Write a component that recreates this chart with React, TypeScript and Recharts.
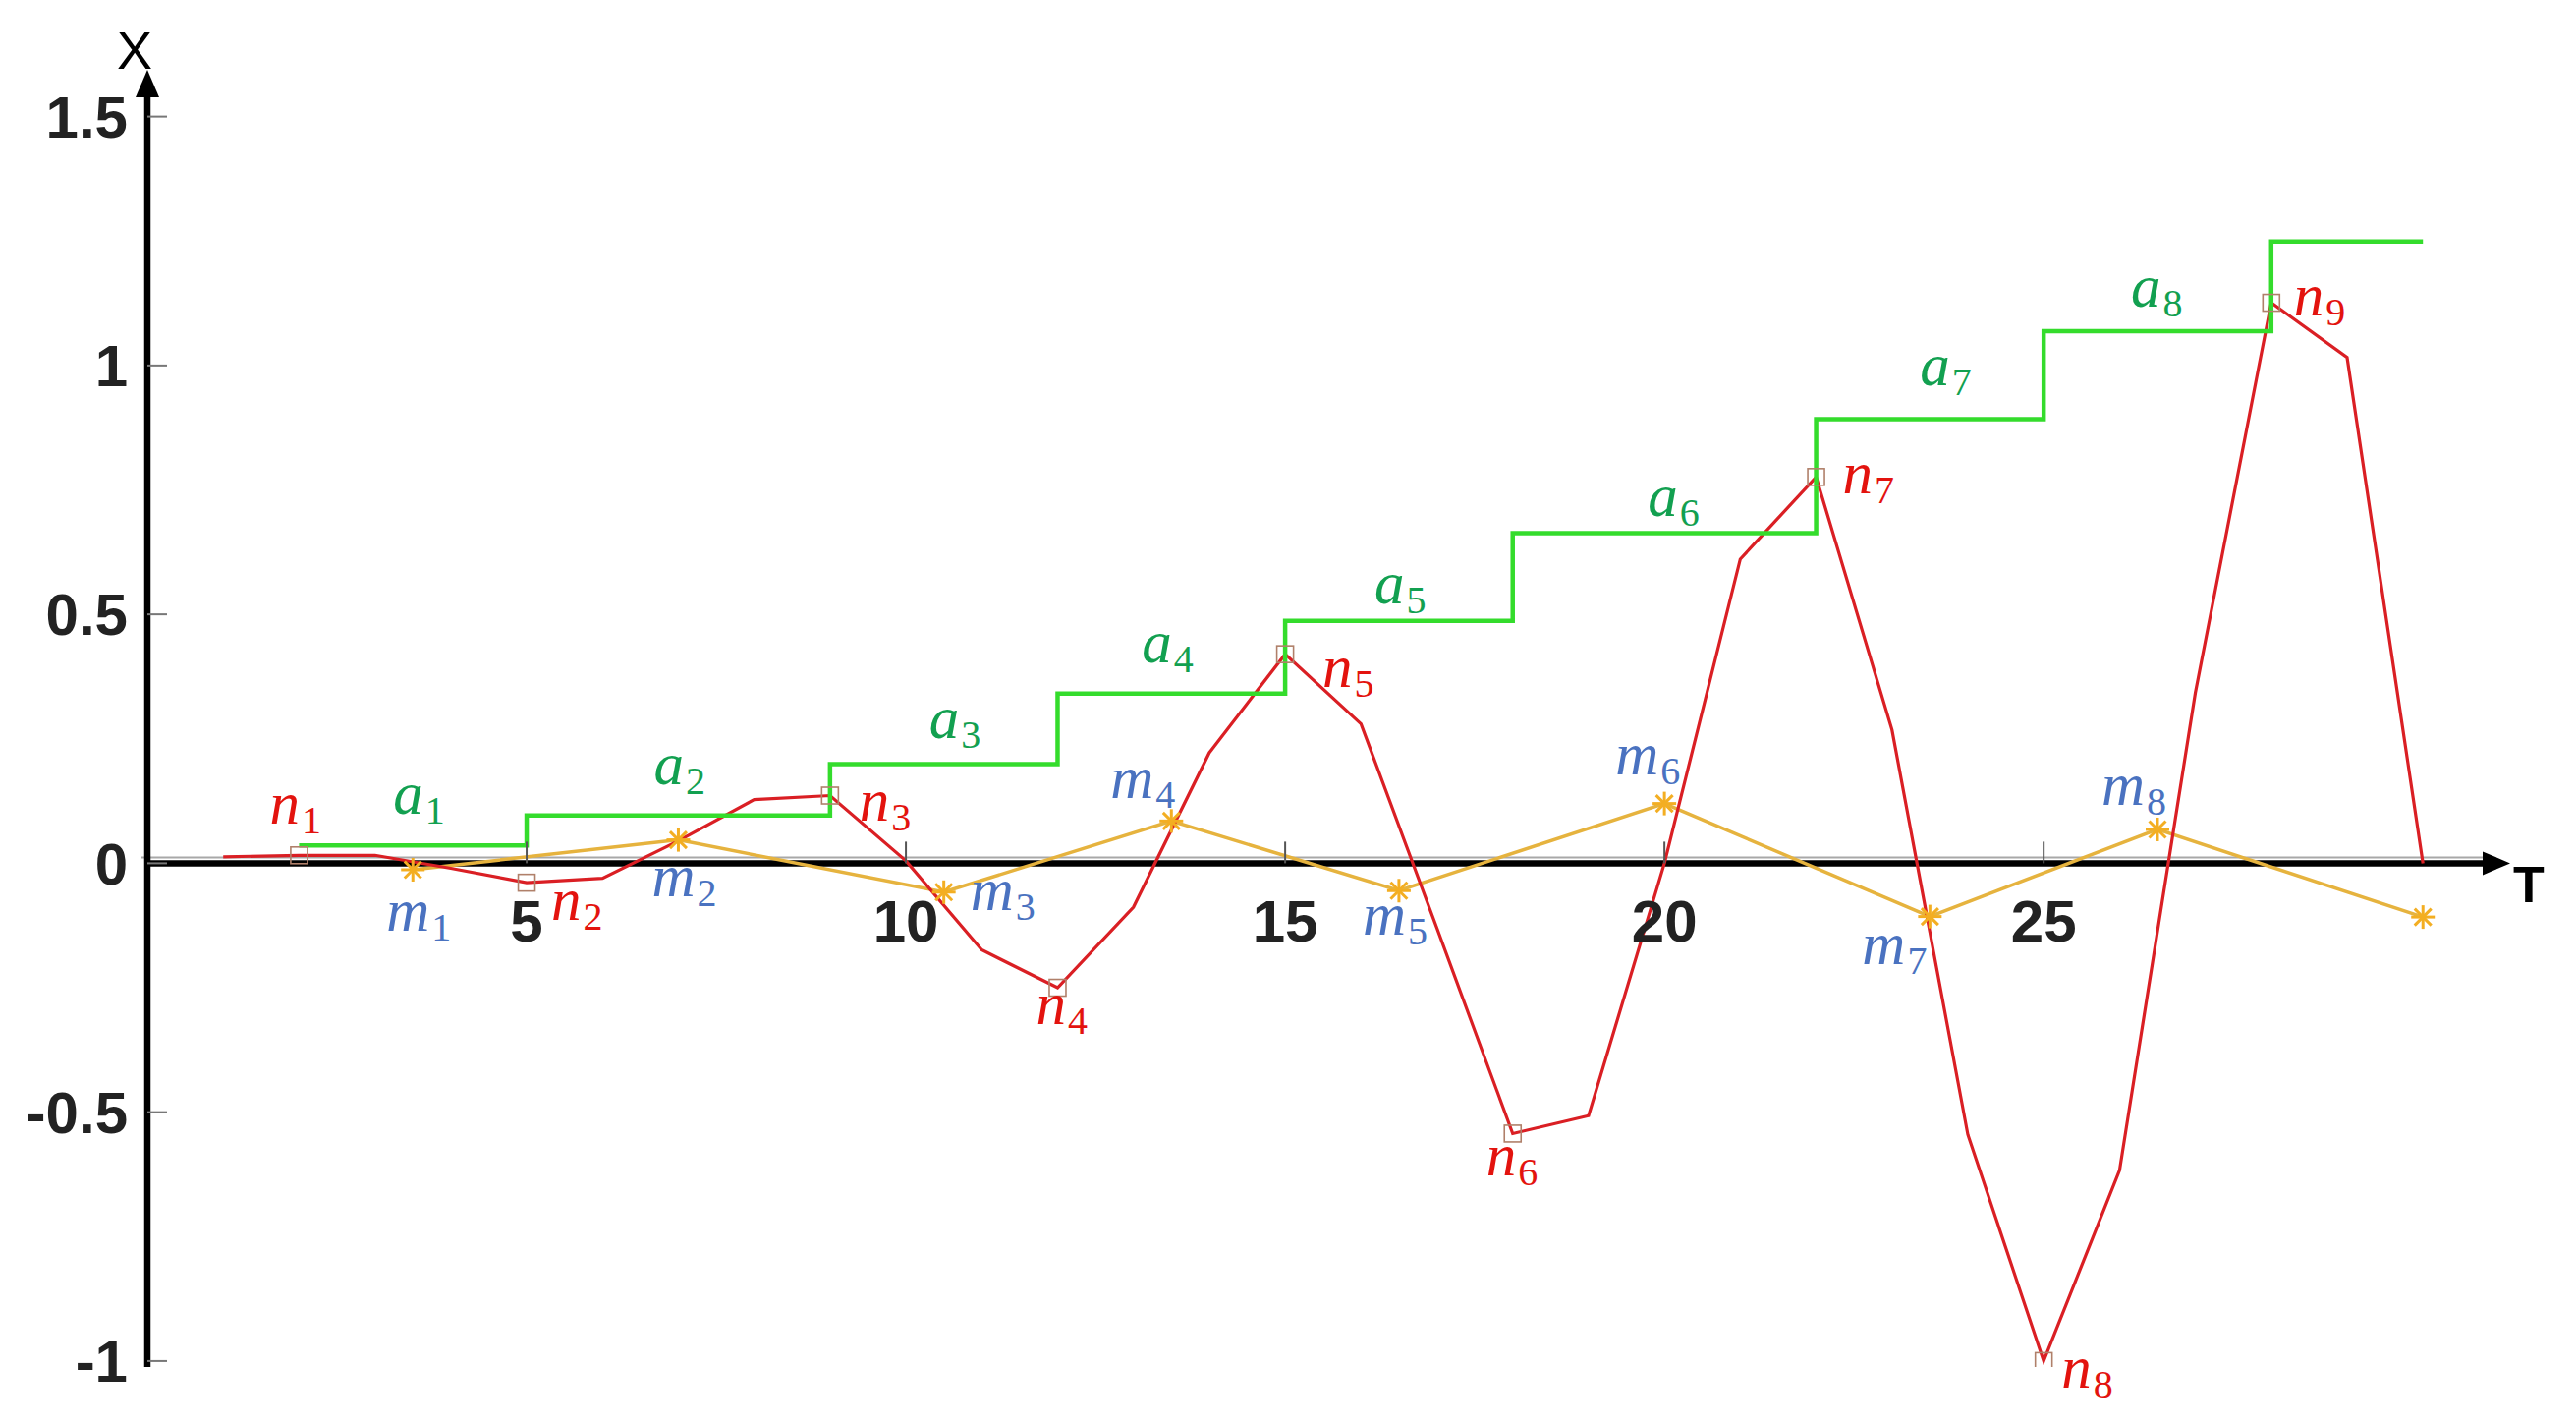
import React from 'react';
import { LineChart, Line, XAxis, YAxis, ReferenceLine, ReferenceDot } from 'recharts';

// ---------- data ----------
const redT = [1, 2, 3, 4, 5, 6, 7, 8, 9, 10, 11, 12, 13, 14, 15, 16, 17, 18, 19, 20, 21, 22, 23, 24, 25, 26, 27, 28, 29, 30];
const redX = [0.013, 0.016, 0.016, -0.01, -0.039, -0.03, 0.045, 0.128, 0.136, 0.005, -0.174, -0.25, -0.088, 0.222, 0.42, 0.28, -0.13, -0.543, -0.507, 0.0, 0.611, 0.776, 0.268, -0.545, -1.0, -0.617, 0.343, 1.126, 1.016, 0.0];

const yellowT = [3.5, 7, 10.5, 13.5, 16.5, 20, 23.5, 26.5, 30];
const yellowX = [-0.013, 0.047, -0.058, 0.085, -0.055, 0.12, -0.107, 0.068, -0.108];

const greenT = [2, 5, 9, 12, 15, 18, 22, 25, 28, 30];
const greenX = [0.036, 0.096, 0.199, 0.341, 0.487, 0.663, 0.892, 1.069, 1.249, 1.249];

const squareT = [2, 5, 9, 12, 15, 18, 22, 25, 28];

const xTicks = [5, 10, 15, 20, 25];
const yTicks = [-1, -0.5, 0, 0.5, 1, 1.5];

const nSubs = ['1', '2', '3', '4', '5', '6', '7', '8', '9'];
const mSubs = ['1', '2', '3', '4', '5', '6', '7', '8'];
const aSubs = ['1', '2', '3', '4', '5', '6', '7', '8'];

const xDomain = [0, 31.15];
const yDomain = [-1.012, 1.594];

// ---------- styles ----------
const W = 2622;
const H = 1452;
const RED = '#DA1F24';
const GREEN = '#34DC2C';
const GOLD = '#E6B33E';
const STAR = '#F3AE22';
const SQUARE = '#B0806A';
const N_COLOR = '#E3130E';
const M_COLOR = '#4A72C0';
const A_COLOR = '#12A050';
const SANS = "'Liberation Sans', Arial, sans-serif";
const SERIF = "'Liberation Serif', 'Times New Roman', serif";

// label offsets (px) from their anchor point: [dx to text start, dy to baseline]
const nOffsets = [[-30, -32], [25, 38], [30, 25], [-22, 37], [38, 33], [-27, 43], [27, 17], [18, 27], [23, 13]];
const mOffsets = [[-27, 62], [-27, 57], [27, 18], [-62, -23], [-37, 45], [-50, -30], [-69, 48], [-57, -25]];
const aOffsets = [[-20, -32], [-25, -32], [-15, -27], [-30, -32], [-25, -18], [-17, -18], [-10, -35], [-27, -25]];

const redData = redT.map((t, i) => ({ t, x: redX[i] }));
const yellowData = yellowT.map((t, i) => ({ t, x: yellowX[i] }));
const greenData = greenT.map((t, i) => ({ t, x: greenX[i] }));

function MathLabel({ x, y, letter, sub, color }: any) {
  return (
    <text x={x} y={y} fill={color} fontFamily={SERIF}>
      <tspan fontStyle="italic" fontSize={61}>{letter}</tspan>
      <tspan fontSize={40} dx={2} dy={10}>{sub}</tspan>
    </text>
  );
}

const renderSquare = (props: any) => {
  const { cx, cy, payload, index } = props;
  if (!squareT.includes(payload.t) || cx == null) return <g key={`sq-${index}`} />;
  return <rect key={`sq-${index}`} x={cx - 8.5} y={cy - 8.5} width={17} height={17} fill="none" stroke={SQUARE} strokeWidth={1.6} />;
};

const renderStar = (props: any) => {
  const { cx, cy, index } = props;
  if (cx == null) return <g key={`st-${index}`} />;
  const r = 12;
  return (
    <g key={`st-${index}`} stroke={STAR} strokeWidth={3}>
      {[0, 45, 90, 135].map((a) => {
        const dx = r * Math.cos((a * Math.PI) / 180);
        const dy = r * Math.sin((a * Math.PI) / 180);
        return <line key={a} x1={cx - dx} y1={cy - dy} x2={cx + dx} y2={cy + dy} />;
      })}
    </g>
  );
};

const XAxisShape = (p: any) => {
  const x1 = Math.min(p.x1, p.x2);
  const x2 = Math.max(p.x1, p.x2);
  const y = p.y1;
  return (
    <g>
      <line x1={x1 - 6} y1={y - 6} x2={x2 - 24} y2={y - 6} stroke="#A8A8A8" strokeWidth={2} />
      <line x1={x1} y1={y} x2={x2 - 20} y2={y} stroke="#000" strokeWidth={6.5} />
      <polygon points={`${x2},${y} ${x2 - 28},${y - 12} ${x2 - 28},${y + 12}`} fill="#000" />
    </g>
  );
};

const YAxisShape = (p: any) => {
  const top = Math.min(p.y1, p.y2);
  const bot = Math.max(p.y1, p.y2);
  const x = p.x1;
  return (
    <g>
      <line x1={x} y1={bot} x2={x} y2={top + 20} stroke="#000" strokeWidth={6.5} />
      <polygon points={`${x},${top} ${x - 12},${top + 28} ${x + 12},${top + 28}`} fill="#000" />
    </g>
  );
};

const YTick = (props: any) => {
  const { x, y, payload } = props;
  return (
    <g>
      <line x1={x} y1={y} x2={x + 20} y2={y} stroke="#777" strokeWidth={2} />
      <text x={x - 20} y={y} dy="0.355em" textAnchor="end" fontFamily={SANS} fontWeight="bold" fontSize={60} fill="#222">
        {payload.value}
      </text>
    </g>
  );
};

export default function App() {
  const nAnchors = squareT.map((t) => ({ t, x: redX[redT.indexOf(t)] }));
  const mAnchors = mSubs.map((_, i) => ({ t: yellowT[i], x: yellowX[i] }));
  const aAnchors = aSubs.map((_, i) => ({ t: (greenT[i] + greenT[i + 1]) / 2, x: greenX[i] }));

  return (
    <div style={{ position: 'absolute', left: 0, top: 0, width: W, height: H, background: '#fff' }}>
      <LineChart width={W} height={H} margin={{ top: 71, right: 67, bottom: 61, left: 0 }}>
        <XAxis type="number" dataKey="t" domain={xDomain} hide allowDataOverflow />
        <YAxis
          type="number"
          domain={yDomain}
          ticks={yTicks}
          interval={0}
          width={150}
          tickSize={0}
          tickMargin={0}
          tickLine={false}
          axisLine={false}
          tick={<YTick />}
          allowDataOverflow
        />
        <ReferenceLine y={0} stroke="#000" shape={XAxisShape} ifOverflow="visible" />
        <ReferenceLine x={0} stroke="#000" shape={YAxisShape} ifOverflow="visible" />
        {xTicks.map((t) => (
          <ReferenceDot
            key={`xt-${t}`}
            x={t}
            y={0}
            r={0}
            ifOverflow="visible"
            shape={(p: any) => (
              <g>
                <line x1={p.cx} y1={p.cy} x2={p.cx} y2={p.cy - 22} stroke="#555" strokeWidth={2} />
                <text x={p.cx} y={p.cy + 80} textAnchor="middle" fontFamily={SANS} fontWeight="bold" fontSize={60} fill="#222">
                  {t}
                </text>
              </g>
            )}
          />
        ))}
        <Line data={yellowData} dataKey="x" stroke={GOLD} strokeWidth={3.5} dot={renderStar} isAnimationActive={false} />
        <Line data={redData} dataKey="x" stroke={RED} strokeWidth={3.2} dot={renderSquare} isAnimationActive={false} />
        <Line data={greenData} type="stepAfter" dataKey="x" stroke={GREEN} strokeWidth={4.5} dot={false} isAnimationActive={false} />
        {nAnchors.map((a, i) => (
          <ReferenceDot key={`nl-${i}`} x={a.t} y={a.x} r={0} ifOverflow="visible"
            shape={(p: any) => <MathLabel x={p.cx + nOffsets[i][0]} y={p.cy + nOffsets[i][1]} letter="n" sub={nSubs[i]} color={N_COLOR} />} />
        ))}
        {mAnchors.map((a, i) => (
          <ReferenceDot key={`ml-${i}`} x={a.t} y={a.x} r={0} ifOverflow="visible"
            shape={(p: any) => <MathLabel x={p.cx + mOffsets[i][0]} y={p.cy + mOffsets[i][1]} letter="m" sub={mSubs[i]} color={M_COLOR} />} />
        ))}
        {aAnchors.map((a, i) => (
          <ReferenceDot key={`al-${i}`} x={a.t} y={a.x} r={0} ifOverflow="visible"
            shape={(p: any) => <MathLabel x={p.cx + aOffsets[i][0]} y={p.cy + aOffsets[i][1]} letter="a" sub={aSubs[i]} color={A_COLOR} />} />
        ))}
        <ReferenceDot x={0} y={yDomain[1]} r={0} ifOverflow="visible"
          shape={(p: any) => (
            <text x={p.cx - 13} y={p.cy - 1} textAnchor="middle" fontFamily={SANS} fontSize={54} fill="#000">X</text>
          )} />
        <ReferenceDot x={xDomain[1]} y={0} r={0} ifOverflow="visible"
          shape={(p: any) => (
            <text x={p.cx + 3} y={p.cy + 40} fontFamily={SANS} fontWeight="bold" fontSize={52} fill="#000">T</text>
          )} />
      </LineChart>
    </div>
  );
}
